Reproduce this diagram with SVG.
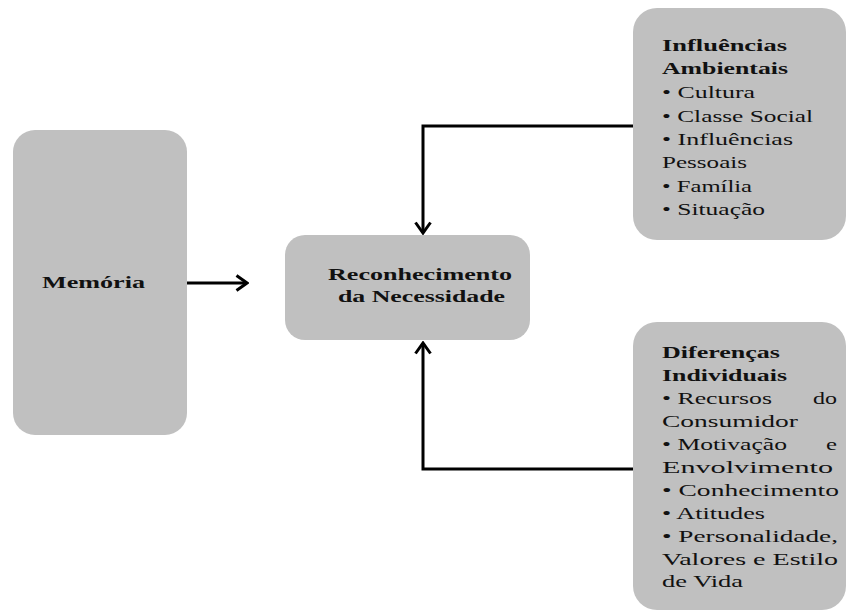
<svg xmlns="http://www.w3.org/2000/svg" width="846" height="613" viewBox="0 0 846 613">
<defs>
<style>
.box{fill:#c0c0c0;}
.t{font-family:"Liberation Serif","Times New Roman",serif;font-size:17.5px;fill:#111;}
.b{font-weight:bold;}
.c{fill:none;stroke:#000;stroke-width:3;}
</style>
<marker id="arr" markerUnits="userSpaceOnUse" viewBox="0 0 14 18" markerWidth="14" markerHeight="18" refX="12" refY="9" orient="auto">
<path d="M1.5,1.5 L12,9 L1.5,16.5" fill="none" stroke="#000" stroke-width="3"/>
</marker>
</defs>
<rect width="846" height="613" fill="#fff"/>
<g id="memoria">
<rect class="box" x="13" y="130" width="174" height="305" rx="22"/>
<text class="t b" x="42" y="288" textLength="103" lengthAdjust="spacingAndGlyphs">Memória</text>
</g>
<g id="reconhecimento">
<rect class="box" x="285" y="235" width="245" height="105" rx="20"/>
<text class="t b" x="328" y="280" textLength="184" lengthAdjust="spacingAndGlyphs">Reconhecimento</text>
<text class="t b" x="338" y="302" textLength="167" lengthAdjust="spacingAndGlyphs">da Necessidade</text>
</g>
<g id="influencias">
<rect class="box" x="633" y="8" width="213" height="232" rx="24"/>
<text class="t b" x="662" y="51" textLength="125" lengthAdjust="spacingAndGlyphs">Influências</text>
<text class="t b" x="662" y="74" textLength="126" lengthAdjust="spacingAndGlyphs">Ambientais</text>
<text class="t" x="662" y="98" textLength="93" lengthAdjust="spacingAndGlyphs">• Cultura</text>
<text class="t" x="662" y="122" textLength="151" lengthAdjust="spacingAndGlyphs">• Classe Social</text>
<text class="t" x="662" y="145" textLength="131" lengthAdjust="spacingAndGlyphs">• Influências</text>
<text class="t" x="662" y="168" textLength="85" lengthAdjust="spacingAndGlyphs">Pessoais</text>
<text class="t" x="662" y="192" textLength="90" lengthAdjust="spacingAndGlyphs">• Família</text>
<text class="t" x="662" y="215" textLength="103" lengthAdjust="spacingAndGlyphs">• Situação</text>
</g>
<g id="diferencas">
<rect class="box" x="633" y="322" width="213" height="288" rx="24"/>
<text class="t b" x="662" y="358" textLength="118" lengthAdjust="spacingAndGlyphs">Diferenças</text>
<text class="t b" x="662" y="381" textLength="125" lengthAdjust="spacingAndGlyphs">Individuais</text>
<text class="t" x="662" y="404" textLength="110" lengthAdjust="spacingAndGlyphs">• Recursos</text>
<text class="t" x="813" y="404" textLength="24" lengthAdjust="spacingAndGlyphs">do</text>
<text class="t" x="662" y="427" textLength="136" lengthAdjust="spacingAndGlyphs">Consumidor</text>
<text class="t" x="662" y="450" textLength="125" lengthAdjust="spacingAndGlyphs">• Motivação</text>
<text class="t" x="826" y="450" textLength="11" lengthAdjust="spacingAndGlyphs">e</text>
<text class="t" x="662" y="473" textLength="171" lengthAdjust="spacingAndGlyphs">Envolvimento</text>
<text class="t" x="662" y="496" textLength="177" lengthAdjust="spacingAndGlyphs">• Conhecimento</text>
<text class="t" x="662" y="519" textLength="103" lengthAdjust="spacingAndGlyphs">• Atitudes</text>
<text class="t" x="662" y="542" textLength="176" lengthAdjust="spacingAndGlyphs">• Personalidade,</text>
<text class="t" x="662" y="565" textLength="176" lengthAdjust="spacingAndGlyphs">Valores e Estilo</text>
<text class="t" x="662" y="587" textLength="81" lengthAdjust="spacingAndGlyphs">de Vida</text>
</g>
<g id="connectors">
<path class="c" d="M187,283 H247" marker-end="url(#arr)"/>
<path class="c" d="M633,126 H423 V233" marker-end="url(#arr)"/>
<path class="c" d="M633,469 H423 V343" marker-end="url(#arr)"/>
</g>
</svg>
